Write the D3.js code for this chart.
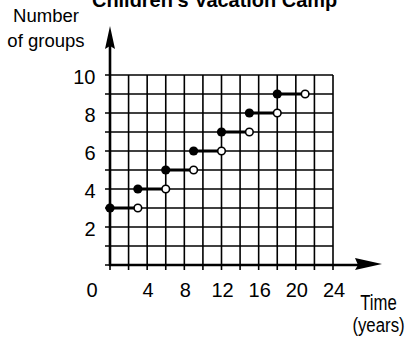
<!DOCTYPE html>
<html>
<head>
<meta charset="utf-8">
<script src="https://cdn.jsdelivr.net/npm/d3@7/dist/d3.min.js"></script>
<style>
  html, body { margin: 0; padding: 0; background: #fff; }
  svg { display: block; }
  text { font-family: "Liberation Sans", Arial, Helvetica, sans-serif; fill: #000; }
</style>
</head>
<body>
<svg id="chart" width="406" height="343"></svg>
<script>
// Children's Vacation Camp: number of groups over time (step function)
const titleText = "Children's Vacation Camp";
const yTitleLines = ["Number", "of groups"];
const xTitleLines = ["Time", "(years)"];
const xTickLabels = [0, 4, 8, 12, 16, 20, 24];
const yTickLabels = [2, 4, 6, 8, 10];
const stepStart = [0, 3, 6, 9, 12, 15, 18];   // closed end (included)
const stepEnd = [3, 6, 9, 12, 15, 18, 21];    // open end (excluded)
const groupCount = [3, 4, 5, 6, 7, 8, 9];

const steps = groupCount.map((g, i) => ({ x0: stepStart[i], x1: stepEnd[i], y: g }));

const svg = d3.select("#chart");
const x = d3.scaleLinear().domain([0, 24]).range([110, 333]);
const y = d3.scaleLinear().domain([0, 10]).range([265, 75]);

// grid: one column per 2 years, one row per group
const grid = svg.append("g").attr("stroke", "#000").attr("stroke-width", 1.6);
grid.selectAll("line.v").data(x.ticks(12)).join("line")
  .attr("class", "v")
  .attr("x1", d => x(d)).attr("x2", d => x(d))
  .attr("y1", y(0) + 5).attr("y2", y(10));
grid.selectAll("line.h").data(y.ticks(10)).join("line")
  .attr("class", "h")
  .attr("x1", x(0) - 5).attr("x2", x(24))
  .attr("y1", d => y(d)).attr("y2", d => y(d));

// axes with arrowheads
const axes = svg.append("g");
axes.append("line")
  .attr("x1", x(0)).attr("x2", x(0)).attr("y1", y(0) + 1).attr("y2", 40)
  .attr("stroke", "#000").attr("stroke-width", 2.6);
axes.append("path")
  .attr("d", `M${x(0)},26 L${x(0) + 5},49 L${x(0)},46 L${x(0) - 5},49 Z`)
  .attr("fill", "#000");
axes.append("line")
  .attr("x1", x(0) - 1).attr("x2", 366).attr("y1", y(0)).attr("y2", y(0))
  .attr("stroke", "#000").attr("stroke-width", 2.6);
axes.append("path")
  .attr("d", `M382,${y(0) - 1} L355,${y(0) - 7} L358,${y(0)} L355,${y(0) + 5} Z`)
  .attr("fill", "#000");

// step segments
const marks = svg.append("g");
marks.selectAll("line.step").data(steps).join("line")
  .attr("class", "step")
  .attr("x1", d => x(d.x0)).attr("x2", d => x(d.x1))
  .attr("y1", d => y(d.y)).attr("y2", d => y(d.y))
  .attr("stroke", "#000").attr("stroke-width", 3);
marks.selectAll("circle.closed").data(steps).join("circle")
  .attr("class", "closed")
  .attr("cx", d => x(d.x0)).attr("cy", d => y(d.y)).attr("r", 4.6)
  .attr("fill", "#000");
marks.selectAll("circle.open").data(steps).join("circle")
  .attr("class", "open")
  .attr("cx", d => x(d.x1)).attr("cy", d => y(d.y)).attr("r", 3.8)
  .attr("fill", "#fff").attr("stroke", "#000").attr("stroke-width", 1.6);

// tick labels
const labels = svg.append("g");
labels.selectAll("text.yt").data(yTickLabels).join("text")
  .attr("class", "yt")
  .attr("x", 95.5).attr("y", d => y(d) + 9)
  .attr("text-anchor", "end").attr("font-size", 20)
  .text(d => d);
labels.selectAll("text.xt").data(xTickLabels).join("text")
  .attr("class", "xt")
  .attr("x", d => d === 0 ? 92 : x(d) + 1).attr("y", 297)
  .attr("text-anchor", "middle").attr("font-size", 20)
  .text(d => d);

// titles; condensed ones are squeezed horizontally with a scale transform
function label(txt, px, py, size, sx, anchor, weight) {
  return svg.append("text")
    .attr("transform", `translate(${px},${py}) scale(${sx},1)`)
    .attr("font-size", size)
    .attr("font-weight", weight || "normal")
    .attr("text-anchor", anchor)
    .text(txt);
}
label(yTitleLines[0], 46, 22, 18, 1.03, "middle");
label(yTitleLines[1], 46, 47, 18, 1.03, "middle");
label(xTitleLines[0], 378.5, 310, 22, 0.76, "middle");
label(xTitleLines[1], 378.5, 332, 21, 0.8, "middle");
label(titleText, 92, 6.8, 21, 0.95, "start", "bold");
</script>
</body>
</html>
